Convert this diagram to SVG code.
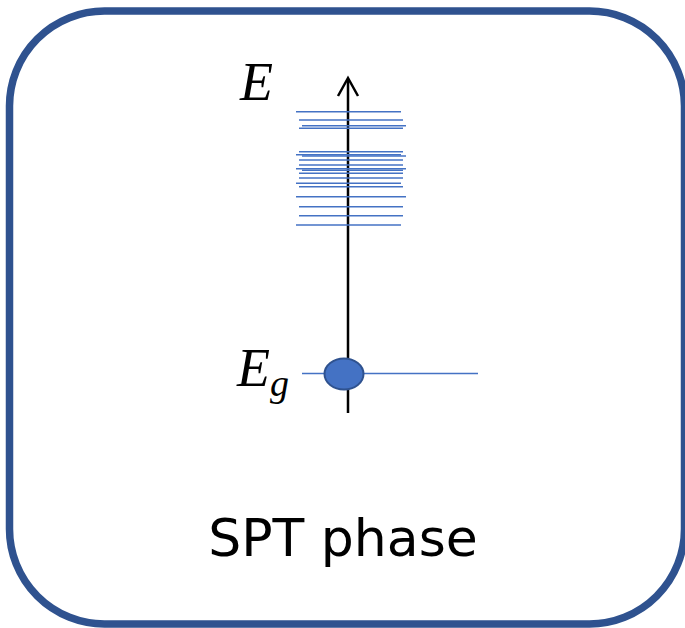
<svg xmlns="http://www.w3.org/2000/svg" width="685" height="628" viewBox="0 0 685 628">
<style>
.lv{stroke:#4472C4;stroke-width:1.4;fill:none}
.ax{stroke:#000;stroke-width:2.5;fill:none}
.m{font-family:"Liberation Serif","DejaVu Serif",serif;font-style:italic;fill:#000}
</style>
<rect x="9.5" y="11" width="675" height="613" rx="95" ry="95" fill="#fff" stroke="#2F528F" stroke-width="7.5"/>
<g id="connectors">
<line class="ax" x1="348" y1="79" x2="348" y2="413"/>
<polyline class="ax" points="338,96 348,78 358,96" stroke-linejoin="miter"/>
</g>
<g id="levels">
<line class="lv" x1="296" y1="111.7" x2="401" y2="111.7"/>
<line class="lv" x1="299" y1="120" x2="403" y2="120"/>
<line class="lv" x1="302" y1="125.7" x2="406" y2="125.7"/>
<line class="lv" x1="299" y1="128.3" x2="403" y2="128.3"/>
<line class="lv" x1="299" y1="151.7" x2="403" y2="151.7"/>
<line class="lv" x1="296" y1="154.7" x2="401" y2="154.7"/>
<line class="lv" x1="302" y1="156" x2="406" y2="156"/>
<line class="lv" x1="299" y1="160" x2="403" y2="160"/>
<line class="lv" x1="299" y1="165" x2="403" y2="165"/>
<line class="lv" x1="296" y1="168.7" x2="406" y2="168.7"/>
<line class="lv" x1="302" y1="170.3" x2="403" y2="170.3"/>
<line class="lv" x1="299" y1="173.3" x2="403" y2="173.3"/>
<line class="lv" x1="299" y1="178" x2="403" y2="178"/>
<line class="lv" x1="296" y1="183.3" x2="401" y2="183.3"/>
<line class="lv" x1="299" y1="186.7" x2="403" y2="186.7"/>
<line class="lv" x1="296" y1="196.7" x2="406" y2="196.7"/>
<line class="lv" x1="299" y1="206.7" x2="403" y2="206.7"/>
<line class="lv" x1="299" y1="215.7" x2="403" y2="215.7"/>
<line class="lv" x1="296" y1="225" x2="401" y2="225"/>
</g>
<g id="ground">
<line class="lv" x1="302" y1="373.5" x2="478" y2="373.5"/>
<ellipse cx="344" cy="374" rx="19.5" ry="15.5" fill="#4472C4" stroke="#2F528F" stroke-width="2"/>
</g>
<g id="labels">
<text class="m" x="240" y="100" font-size="54">E</text>
<text class="m" x="237" y="386" font-size="54">E<tspan font-size="38" dy="10">g</tspan></text>
<text x="343" y="556" font-family="DejaVu Sans,Verdana,sans-serif" font-size="52" text-anchor="middle" fill="#000">SPT phase</text>
</g>
</svg>
